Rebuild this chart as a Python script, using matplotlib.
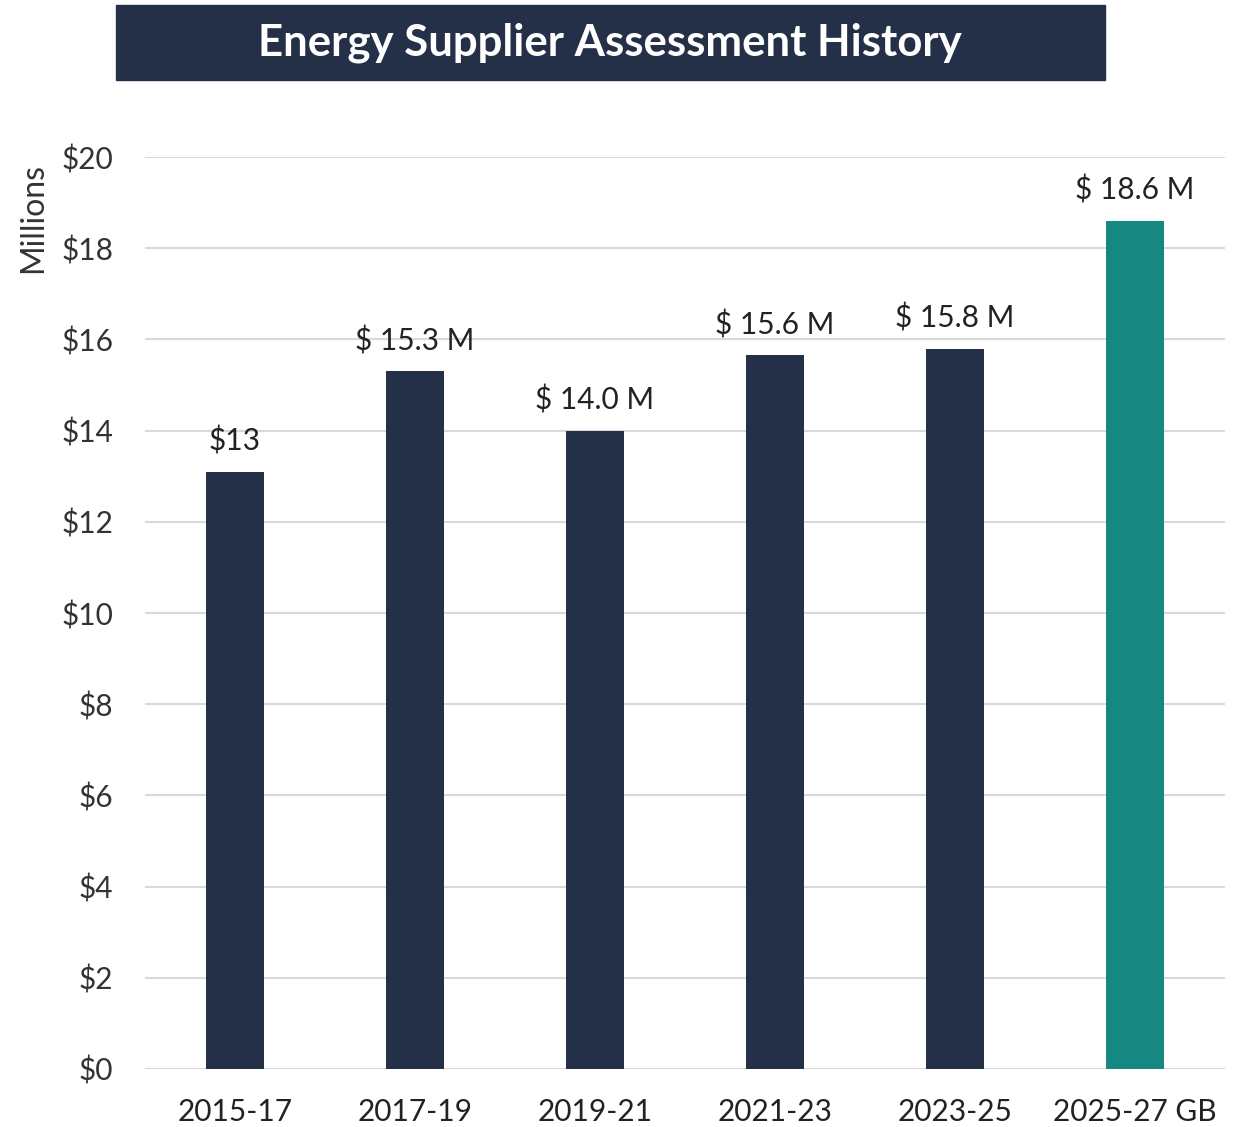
import matplotlib.pyplot as plt
from matplotlib.patches import Rectangle

periods = ["2015-17", "2017-19", "2019-21", "2021-23", "2023-25", "2025-27 GB"]
values = [13.1, 15.3, 14.0, 15.65, 15.8, 18.6]
labels = ["$13", "$ 15.3 M", "$ 14.0 M", "$ 15.6 M", "$ 15.8 M", "$ 18.6 M"]
yticks = [0, 2, 4, 6, 8, 10, 12, 14, 16, 18, 20]

navy = "#233047"
teal = "#178782"
colors = [navy] * 5 + [teal]

plt.rcParams['font.family'] = ['Lato', 'DejaVu Sans']

fig = plt.figure(figsize=(12.4, 11.27), dpi=100)
ax = fig.add_axes([145 / 1240, 1 - 1069 / 1127, 1080 / 1240, (1069 - 157) / 1127])

x = range(len(periods))
ax.bar(x, values, width=0.32, color=colors, zorder=3)
for i, (v, lab) in enumerate(zip(values, labels)):
    ax.text(i, v + 0.35, lab, ha='center', va='bottom', fontsize=21.5, color='#222222')

ax.set_xlim(-0.5, len(periods) - 0.5)
ax.set_ylim(0, 20)
ax.set_yticks(yticks)
ax.set_yticklabels(["$%d" % t for t in yticks], fontsize=21.5, color='#333333')
ax.set_xticks(list(x))
ax.set_xticklabels(periods, fontsize=21.5, color='#222222')
ax.tick_params(axis='both', length=0)
ax.tick_params(axis='y', pad=23)
ax.tick_params(axis='x', pad=21)
ax.grid(axis='y', color='#d9d9d9', linewidth=1.5, zorder=0)
for s in ax.spines.values():
    s.set_visible(False)

fig.text(33 / 1240, 1 - 218 / 1127, "Millions", rotation=90, ha='center', va='center',
         fontsize=23, color='#333333')

# title banner
fig.patches.append(Rectangle((116 / 1240, 1 - 80 / 1127), 989 / 1240, 75 / 1127,
                             transform=fig.transFigure, color=navy, zorder=0))
fig.text(610 / 1240, 1 - 43 / 1127, "Energy Supplier Assessment History", ha='center', va='center',
         fontsize=31.5, fontweight='bold', color='white')

fig.savefig("out.png", dpi=100)
